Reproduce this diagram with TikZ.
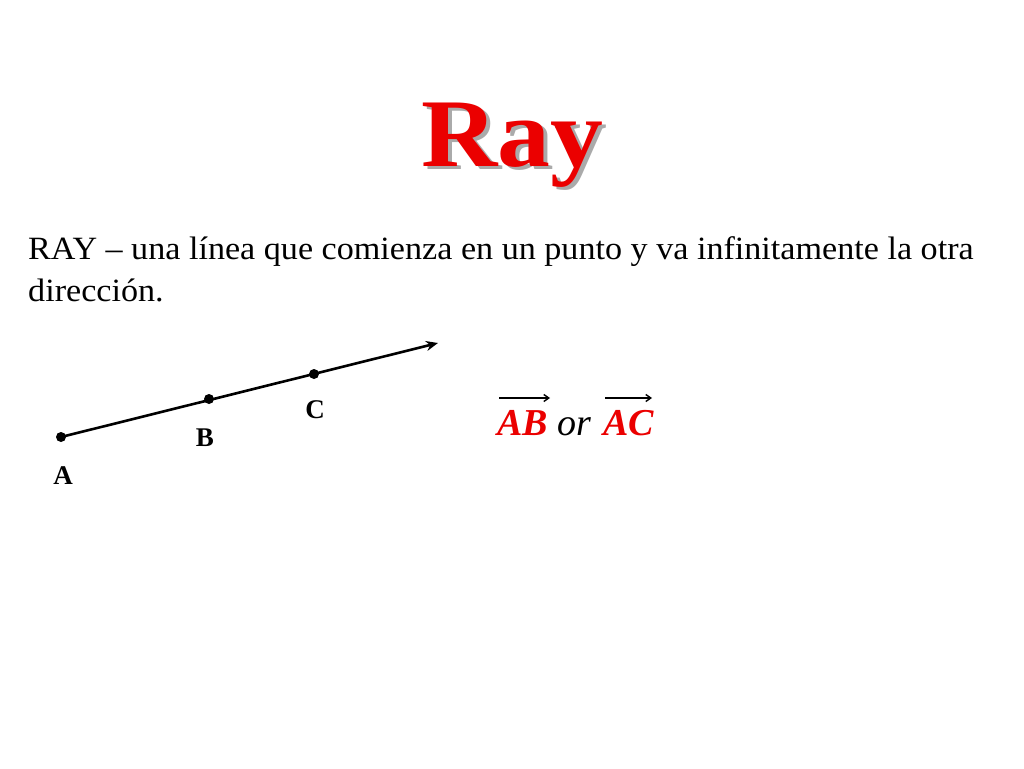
\documentclass[tikz,border=0pt]{standalone}
\usepackage{fontspec}
\setmainfont{Liberation Serif}
\usetikzlibrary{arrows.meta}
\definecolor{rayred}{RGB}{235,0,0}
\definecolor{shadowgray}{RGB}{170,170,170}
\tikzset{
  pt/.style={circle,fill=black,inner sep=0pt,minimum size=10pt},
  ptlabel/.style={font=\fontsize{27}{27}\selectfont\bfseries,inner sep=0pt},
  rayline/.style={line width=2.6pt,-{Stealth[length=12pt,width=10pt]}},
  vecname/.style={font=\fontsize{38}{38}\selectfont\bfseries\itshape,text=rayred,inner sep=0pt,anchor=base west},
  overarrow/.style={line width=1.4pt,-{Straight Barb[length=5pt,width=7pt]}},
  body/.style={font=\fontsize{32.5}{42}\selectfont,inner sep=0pt,anchor=base west,xscale=1.05}
}
\newcommand{\shadowedtitle}[1]{\makebox[0pt][l]{\hspace{3.5pt}\raisebox{-3.5pt}{\textcolor{shadowgray}{#1}}}\textcolor{rayred}{#1}}
\begin{document}
\begin{tikzpicture}[x=1pt,y=-1pt]
\useasboundingbox[fill=white] (0,0) rectangle (1024,768);
% title with shadow
\node[font=\fontsize{97}{97}\selectfont\bfseries,inner sep=0pt,anchor=base west,xscale=1.09] (title) at (421,166) {\shadowedtitle{Ray}};
% body text
\node[body] (line1) at (28,259) {RAY – una línea que comienza en un punto y va infinitamente la otra};
\node[body] (line2) at (28,301) {dirección.};
% ray
\node[pt] (A) at (61,437) {};
\node[pt] (B) at (209,399) {};
\node[pt] (C) at (314,374) {};
\coordinate (tip) at (438,343);
\draw[rayline] (A.center) -- (tip);
\node[ptlabel] (Alab) at (63,476) {A};
\node[ptlabel] (Blab) at (205,438) {B};
\node[ptlabel] (Clab) at (315,410) {C};
% notation
\node[vecname] (AB) at (497,435) {AB};
\node[font=\fontsize{38}{38}\selectfont\itshape,inner sep=0pt,anchor=base west] (or) at (557,435) {or};
\node[vecname] (AC) at (603,435) {AC};
\coordinate (ABs) at (499,398);
\coordinate (ABe) at (550,398);
\coordinate (ACs) at (605,398);
\coordinate (ACe) at (652,398);
\draw[overarrow] (ABs) -- (ABe);
\draw[overarrow] (ACs) -- (ACe);
\end{tikzpicture}
\end{document}
